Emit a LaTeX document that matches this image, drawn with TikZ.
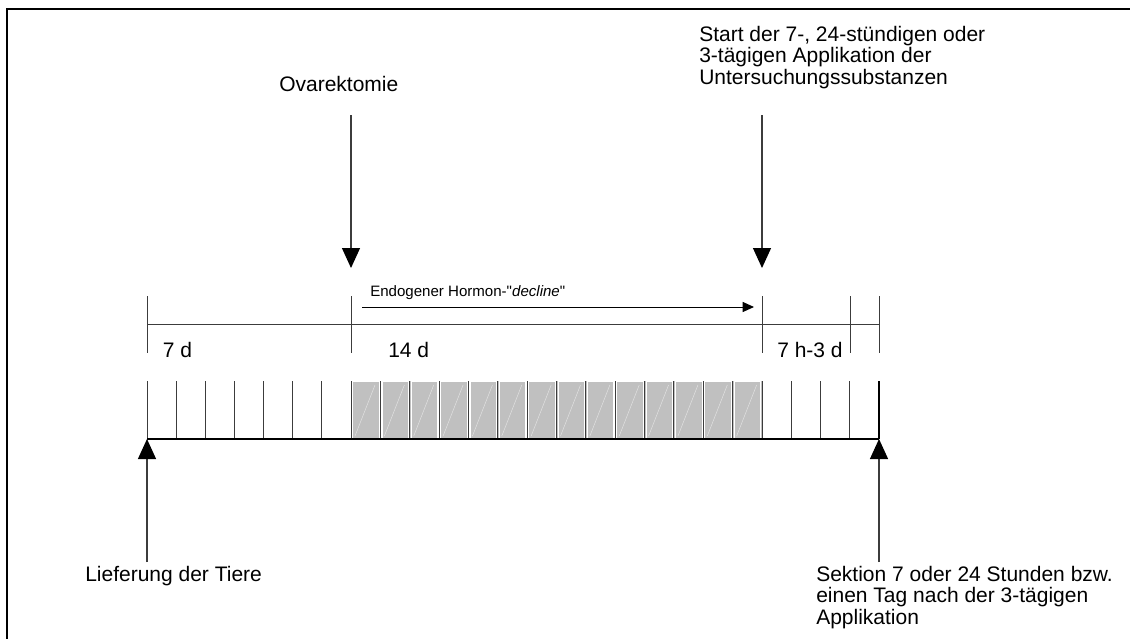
\documentclass[tikz,border=0pt]{standalone}
\usepackage{fontspec}
\setmainfont{Liberation Sans}
\usetikzlibrary{arrows.meta}
\definecolor{cellgray}{RGB}{192,192,192}
\definecolor{linegray}{RGB}{60,60,60}
\begin{document}
\begin{tikzpicture}[x=0.75pt,y=-0.75pt,
  lbl/.style={font=\fontsize{15.75pt}{15.9pt}\selectfont, inner sep=0pt, anchor=base west},
  mlbl/.style={font=\fontsize{15.75pt}{15.9pt}\selectfont, inner sep=0pt, anchor=north west, align=left},
  smalllbl/.style={font=\fontsize{11.3pt}{14pt}\selectfont, inner sep=0pt, anchor=base west},
  tickline/.style={line width=0.75pt, draw=linegray},
  bigarrow/.style={line width=0.9pt, draw=linegray, -{Triangle[length=15pt,width=13.5pt,color=black]}},
  smallarrow/.style={line width=0.75pt, draw=black, -{Triangle[length=8.5pt,width=7.5pt]}}]
\useasboundingbox (0,0) rectangle (1130,639);
\fill[white] (0,0) rectangle (1130,639);
% frame
\draw[line width=1.5pt, black] (1130,8.5) -- (7,8.5) -- (7,639);

% top ticks and horizontal line
\foreach \x/\n in {147/a,351/b,762/c,850/d,879/e}{
  \coordinate (t\n1) at (\x,296);
  \coordinate (t\n2) at (\x,353);
  \draw[tickline] (t\n1) -- (t\n2);
}
\draw[tickline] (ta1 |- 0,324) coordinate (hl1) -- (te1 |- 0,324) coordinate (hl2);

% white cells left
\foreach \i in {0,...,6}{
  \draw[tickline] ({147+\i*29.143},381) -- ({147+\i*29.143},439);
}
% gray cells
\foreach \i in {0,...,13}{
  \pgfmathsetmacro{\xa}{351+\i*29.357}
  \fill[cellgray] (\xa,381) rectangle (\xa+29.357,439);
  \draw[white, line width=0.9pt] (\xa+1.6,381.5) rectangle (\xa+28.2,438.3);
  \draw[white, opacity=0.55, line width=0.35pt] (\xa+4,436) -- (\xa+24,385);
  \draw[tickline] (\xa,381) -- (\xa,439);
}
% right white cells
\foreach \x in {762,791.25,820.5,849.75}{
  \draw[tickline] (\x,381) -- (\x,439);
}
\draw[line width=0.9pt, black] (879,381) -- (879,439);
% bottom line
\draw[line width=0.9pt, black] (147,439) -- (879,439);

% labels on timeline
\node[lbl] (d7) at (162.5,357) {7 d};
\node[lbl] (d14) at (388,357) {14 d};
\node[lbl] (d73) at (777,357) {7 h-3 d};

% endogenous arrow
\coordinate (ea) at (362,307);
\coordinate (eb) at (754,307);
\draw[smallarrow] (ea) -- (eb);
\node[smalllbl] (endo) at (370,296.5) {Endogener Hormon-\textquotedbl\textit{decline}\textquotedbl};

% top arrows
\coordinate (ov1) at (351,115);
\coordinate (ov2) at (351,268);
\draw[bigarrow] (ov1) -- (ov2);
\node[lbl] (ovtext) at (279,91) {Ovarektomie};

\coordinate (st1) at (762,115);
\coordinate (st2) at (762,268);
\draw[bigarrow] (st1) -- (st2);
\node[mlbl] (sttext) at (699,26.2) {Start der 7-, 24-stündigen oder\\3-tägigen Applikation der\\Untersuchungssubstanzen};

% bottom arrows
\coordinate (lf1) at (147,562);
\coordinate (lf2) at (147,439);
\draw[bigarrow] (lf1) -- (lf2);
\node[lbl] (lftext) at (85,581.5) {Lieferung der Tiere};

\coordinate (sk1) at (879,562);
\coordinate (sk2) at (879,439);
\draw[bigarrow] (sk1) -- (sk2);
\node[mlbl] (sktext) at (816,566.2) {Sektion 7 oder 24 Stunden bzw.\\einen Tag nach der 3-tägigen\\Applikation};
\end{tikzpicture}
\end{document}
